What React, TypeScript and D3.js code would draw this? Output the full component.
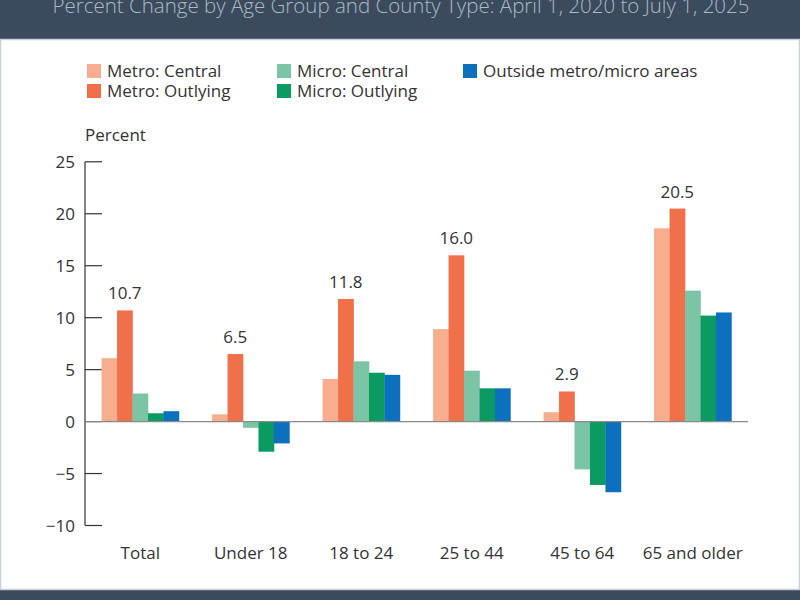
import React, { useEffect, useRef } from "react";
import * as d3 from "d3";

// Age groups on the x axis
const categories = ["Total", "Under 18", "18 to 24", "25 to 44", "45 to 64", "65 and older"];

// County types (legend order)
const seriesNames = [
    "Metro: Central",
    "Metro: Outlying",
    "Micro: Central",
    "Micro: Outlying",
    "Outside metro/micro areas",
];

// Percent change per county type, one value per age group
const metroCentral = [6.1, 0.7, 4.1, 8.9, 0.9, 18.6];
const metroOutlying = [10.7, 6.5, 11.8, 16.0, 2.9, 20.5];
const microCentral = [2.7, -0.6, 5.8, 4.9, -4.6, 12.6];
const microOutlying = [0.8, -2.9, 4.7, 3.2, -6.1, 10.2];
const outsideAreas = [1.0, -2.1, 4.5, 3.2, -6.8, 10.5];

const yTicks = [-10, -5, 0, 5, 10, 15, 20, 25];

const colors = ["#f8ae8e", "#f0704a", "#7cc4a6", "#0b9a62", "#0b70bd"];

const FONT = "'Open Sans', sans-serif";

const App: React.FC = () => {
    const svgRef = useRef<SVGSVGElement | null>(null);

    useEffect(() => {
        if (!svgRef.current) return;
        const svg = d3.select(svgRef.current);
        svg.selectAll("*").remove();

        const allSeries = [metroCentral, metroOutlying, microCentral, microOutlying, outsideAreas];

        // background: dark band, white panel, dark footer
        svg.append("rect").attr("x", 0).attr("y", 0).attr("width", 800).attr("height", 600).attr("fill", "#3c4a5e");
        svg.append("rect")
            .attr("x", 0.5).attr("y", 39.5).attr("width", 799).attr("height", 550)
            .attr("fill", "#ffffff").attr("stroke", "#c9d0d6").attr("stroke-width", 1.5);

        svg.append("text")
            .attr("x", 401).attr("y", 13)
            .attr("text-anchor", "middle")
            .attr("font-family", FONT).attr("font-size", 20.5).attr("font-weight", 300)
            .attr("fill", "#a6bcc7")
            .text("Percent Change by Age Group and County Type: April 1, 2020 to July 1, 2025");

        const x0 = d3.scaleBand<string>()
            .domain(categories)
            .range([85, 748])
            .paddingInner(0.3)
            .paddingOuter(0.15);

        const x1 = d3.scaleBand<number>()
            .domain(d3.range(seriesNames.length))
            .range([0, x0.bandwidth()]);

        const y = d3.scaleLinear().domain([-10, 25]).range([525.5, 161.8]);

        // y axis
        const g = svg.append("g");
        g.append("line")
            .attr("x1", 85).attr("x2", 85)
            .attr("y1", y(25)).attr("y2", y(-10))
            .attr("stroke", "#333").attr("stroke-width", 1.2);
        g.selectAll(".tick")
            .data(yTicks)
            .enter()
            .append("line")
            .attr("x1", 85).attr("x2", 102)
            .attr("y1", (d) => y(d)).attr("y2", (d) => y(d))
            .attr("stroke", "#333").attr("stroke-width", 1.2);
        g.selectAll(".tickLabel")
            .data(yTicks)
            .enter()
            .append("text")
            .attr("x", 75).attr("y", (d) => y(d) + 6)
            .attr("text-anchor", "end")
            .attr("font-family", FONT).attr("font-size", 17)
            .attr("fill", "#333")
            .text((d) => d3.format("d")(d));

        svg.append("text")
            .attr("x", 85).attr("y", 141)
            .attr("font-family", FONT).attr("font-size", 17)
            .attr("fill", "#333")
            .text("Percent");

        // bars
        const groups = svg.selectAll(".grp")
            .data(categories)
            .enter()
            .append("g")
            .attr("transform", (d) => `translate(${x0(d)},0)`);

        groups.selectAll("rect")
            .data((_, i) => allSeries.map((s, k) => ({ k, v: s[i] })))
            .enter()
            .append("rect")
            .attr("x", (d) => x1(d.k) as number)
            .attr("width", x1.bandwidth() + 0.3)
            .attr("y", (d) => y(Math.max(0, d.v)))
            .attr("height", (d) => Math.abs(y(d.v) - y(0)))
            .attr("fill", (d) => colors[d.k]);

        // zero line
        svg.append("line")
            .attr("x1", 85).attr("x2", 748)
            .attr("y1", y(0)).attr("y2", y(0))
            .attr("stroke", "#8a8a8a").attr("stroke-width", 1.2);

        // value labels on Metro: Outlying
        svg.selectAll(".val")
            .data(categories)
            .enter()
            .append("text")
            .attr("x", (d) => (x0(d) as number) + (x1(1) as number) + x1.bandwidth() / 2)
            .attr("y", (_, i) => y(metroOutlying[i]) - 11)
            .attr("text-anchor", "middle")
            .attr("font-family", FONT).attr("font-size", 17)
            .attr("fill", "#333")
            .text((_, i) => d3.format(".1f")(metroOutlying[i]));

        // category labels
        svg.selectAll(".cat")
            .data(categories)
            .enter()
            .append("text")
            .attr("x", (d) => (x0(d) as number) + x0.bandwidth() / 2)
            .attr("y", 559)
            .attr("text-anchor", "middle")
            .attr("font-family", FONT).attr("font-size", 17)
            .attr("fill", "#333")
            .text((d) => d);

        // legend
        const legendPos = [
            { x: 87, y: 64 },
            { x: 87, y: 84 },
            { x: 277, y: 64 },
            { x: 277, y: 84 },
            { x: 463, y: 64 },
        ];
        const legend = svg.selectAll(".leg")
            .data(seriesNames)
            .enter()
            .append("g")
            .attr("transform", (_, i) => `translate(${legendPos[i].x},${legendPos[i].y})`);
        legend.append("rect")
            .attr("width", 14).attr("height", 14)
            .attr("fill", (_, i) => colors[i]);
        legend.append("text")
            .attr("x", 20).attr("y", 13)
            .attr("font-family", FONT).attr("font-size", 17)
            .attr("fill", "#333")
            .text((d) => d);
    }, []);

    return (
        <svg
            ref={svgRef}
            width={800}
            height={600}
            style={{ position: "absolute", left: 0, top: 0 }}
        ></svg>
    );
};

export default App;
